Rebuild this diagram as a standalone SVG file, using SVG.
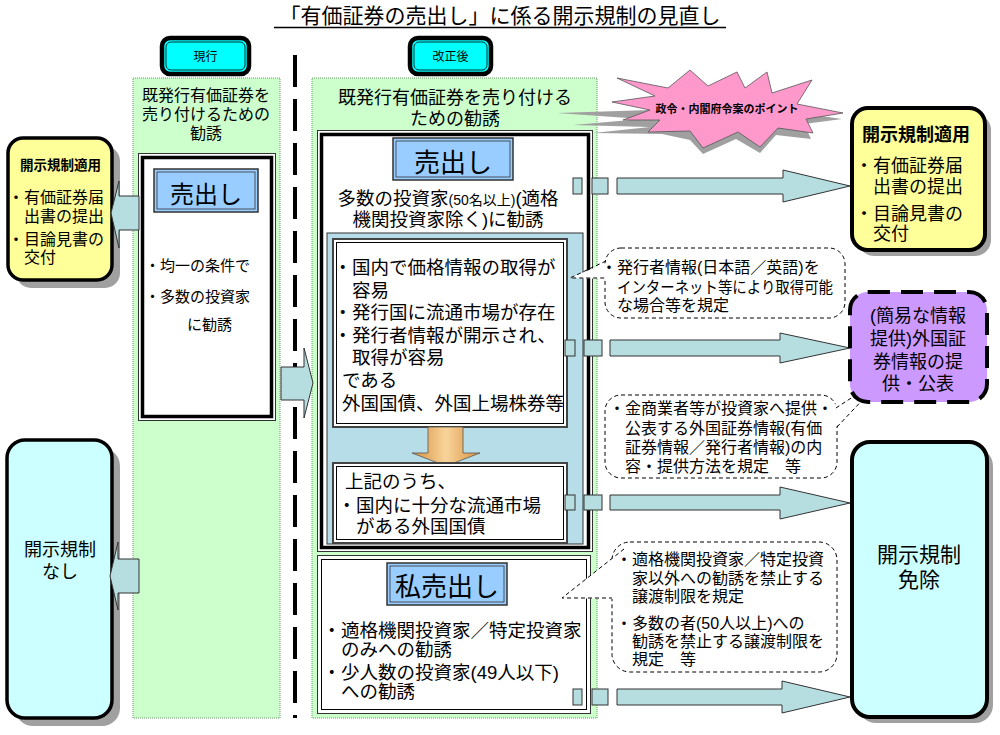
<svg xmlns="http://www.w3.org/2000/svg" width="1000" height="735" viewBox="0 0 1000 735">
<defs>
<linearGradient id="og" x1="0" y1="0" x2="1" y2="0">
<stop offset="0" stop-color="#D89040"/><stop offset="0.5" stop-color="#F8D49A"/><stop offset="1" stop-color="#D89040"/>
</linearGradient>
<style>
.t{font-family:"Liberation Sans","Noto Sans CJK JP","Noto Sans CJK SC",sans-serif;fill:#000}
.b{font-weight:bold}
.col{fill:#CCFFCC;stroke:#6A9A6A;stroke-width:1;stroke-dasharray:1 1}
.arr{fill:#B6DDE0;stroke:#333;stroke-width:1}
.sh{fill:#A0A0A0}
.lbl{fill:#99CCFF;stroke:#333;stroke-width:1.5}
.lbli{fill:none;stroke:#333;stroke-width:0.8}
.wb1{fill:#fff;stroke:#333;stroke-width:1}
.wb2{fill:none;stroke:#000;stroke-width:3.5}
.ib1{fill:#fff;stroke:#444;stroke-width:2}
.ib2{fill:none;stroke:#000;stroke-width:1}
.co{fill:#fff;stroke:#000;stroke-width:1;stroke-dasharray:4 3}
.cot{fill:none;stroke:#000;stroke-width:1;stroke-dasharray:4 3}
.tab{fill:#00FFFF;stroke:#000;stroke-width:4.5}
.tabi{fill:none;stroke:#000;stroke-width:0.8}
</style>
</defs>
<rect width="1000" height="735" fill="#fff"/>

<g id="title">
<text class="t" x="500" y="23" font-size="21" text-anchor="middle">「有価証券の売出し」に係る開示規制の見直し</text>
<line x1="274" y1="27.5" x2="726" y2="27.5" stroke="#000" stroke-width="1.5"/>
</g>

<g id="tab-current">
<rect class="tab" x="162" y="38" width="87" height="36" rx="8"/>
<rect class="tabi" x="166" y="42" width="79" height="28" rx="5"/>
<text class="t" x="205.5" y="61" font-size="12" text-anchor="middle">現行</text>
</g>
<g id="tab-revised">
<rect class="tab" x="410" y="38" width="81" height="36" rx="8"/>
<rect class="tabi" x="414" y="42" width="73" height="28" rx="5"/>
<text class="t" x="450.5" y="61" font-size="12" text-anchor="middle">改正後</text>
</g>

<g id="divider">
<line x1="295" y1="55" x2="295" y2="718" stroke="#000" stroke-width="4" stroke-dasharray="32 12"/>
</g>

<g id="col-current">
<rect class="col" x="133" y="78" width="147" height="640"/>
<text class="t" font-size="16" text-anchor="middle"><tspan x="206" y="101">既発行有価証券を</tspan><tspan x="206" y="120">売り付けるための</tspan><tspan x="206" y="139">勧誘</tspan></text>
</g>

<g id="col-revised">
<rect class="col" x="312" y="78" width="285" height="640"/>
<text class="t" font-size="18" text-anchor="middle"><tspan x="455" y="104">既発行有価証券を売り付ける</tspan><tspan x="455" y="125">ための勧誘</tspan></text>
</g>

<g id="uridashi-current">
<rect class="wb1" x="138.5" y="153.5" width="137" height="267"/>
<rect class="wb2" x="142.5" y="157.5" width="129" height="259"/>
<rect class="lbl" x="154" y="169" width="104" height="43"/>
<rect class="lbli" x="157" y="172" width="98" height="37"/>
<text class="t" x="206" y="203" font-size="24" text-anchor="middle">売出し</text>
<text class="t" font-size="15"><tspan x="145" y="271">・</tspan><tspan x="160">均一の条件で</tspan><tspan x="145" y="302">・</tspan><tspan x="160">多数の投資家</tspan><tspan x="187" y="330">に勧誘</tspan></text>
</g>

<g id="disclosure-left">
<rect class="sh" x="16" y="146" width="104" height="142" rx="15"/>
<rect x="8" y="138" width="104" height="142" rx="15" fill="#FFFF99" stroke="#000" stroke-width="3.5"/>
<text class="t" font-size="16"><tspan class="b" x="20" y="170" font-size="13.5">開示規制適用</tspan><tspan x="8" y="203">・</tspan><tspan x="24">有価証券届</tspan><tspan x="24" y="222">出書の提出</tspan><tspan x="8" y="245">・</tspan><tspan x="24">目論見書の</tspan><tspan x="24" y="263">交付</tspan></text>
</g>

<g id="nodisclosure-left">
<rect class="sh" x="15" y="448" width="105" height="278" rx="18"/>
<rect x="7" y="440" width="105" height="278" rx="18" fill="#CCFFFF" stroke="#000" stroke-width="3.5"/>
<text class="t" font-size="18" text-anchor="middle"><tspan x="60" y="556">開示規制</tspan><tspan x="60" y="578">なし</tspan></text>
</g>

<g id="connectors">
<polygon class="arr" points="139,196 119,196 119,181 111,213 119,248 119,230 139,230"/>
<polygon class="arr" points="139,559 118,559 118,542 110,576 118,610 118,593 139,593"/>
<polygon class="arr" points="281,367 304,367 304,348 313,383 304,418 304,400 281,400"/>
</g>

<g id="uridashi-revised">
<rect class="wb1" x="317.5" y="130.5" width="275" height="421"/>
<rect class="wb2" x="321.5" y="134.5" width="267" height="413"/>
<rect class="lbl" x="393" y="138" width="120" height="42"/>
<rect class="lbli" x="396" y="141" width="114" height="36"/>
<text class="t" x="453" y="172" font-size="26" text-anchor="middle">売出し</text>
<text class="t" font-size="18.5" text-anchor="middle"><tspan x="448" y="205">多数の投資家<tspan font-size="14">(50名以上)</tspan>(適格</tspan><tspan x="448" y="226">機関投資家除く)に勧誘</tspan></text>
<rect x="327" y="233" width="256" height="311" fill="#B7DDE8" stroke="#333" stroke-width="1"/>
</g>

<g id="foreign-bonds">
<rect class="ib1" x="333" y="239" width="234" height="188"/>
<rect class="ib2" x="336.5" y="242.5" width="227" height="181"/>
<text class="t" font-size="18.5"><tspan x="333.5" y="274">・</tspan><tspan x="352">国内で価格情報の取得が</tspan><tspan x="352" y="297">容易</tspan><tspan x="333.5" y="319">・</tspan><tspan x="352">発行国に流通市場が存在</tspan><tspan x="333.5" y="342">・</tspan><tspan x="352">発行者情報が開示され、</tspan><tspan x="352" y="364">取得が容易</tspan><tspan x="342" y="387">である</tspan><tspan x="342" y="410">外国国債、外国上場株券等</tspan></text>
</g>

<g id="down-arrow">
<polygon points="428,427 463,427 463,453 480,453 446,466 412,453 428,453" fill="url(#og)" stroke="#555" stroke-width="0.8"/>
</g>

<g id="subset-bonds">
<rect class="ib1" x="333" y="463" width="234" height="80"/>
<rect class="ib2" x="336.5" y="466.5" width="227" height="73"/>
<text class="t" font-size="18.5"><tspan x="345" y="488">上記のうち、</tspan><tspan x="337.5" y="512">・</tspan><tspan x="356">国内に十分な流通市場</tspan><tspan x="356" y="533">がある外国国債</tspan></text>
</g>

<g id="shiuridashi">
<rect class="wb1" x="317.5" y="555.5" width="273" height="158"/>
<rect class="ib2" x="321.5" y="559.5" width="265" height="150" stroke-width="1.5"/>
<rect class="lbl" x="387" y="563" width="120" height="42"/>
<rect class="lbli" x="390" y="566" width="114" height="36"/>
<text class="t" x="447" y="596" font-size="26" text-anchor="middle">私売出し</text>
<text class="t" font-size="18.5"><tspan x="322.5" y="637">・</tspan><tspan x="341">適格機関投資家／特定投資家</tspan><tspan x="341" y="656">のみへの勧誘</tspan><tspan x="322.5" y="679">・</tspan><tspan x="341">少人数の投資家(49人以下)</tspan><tspan x="341" y="698">への勧誘</tspan></text>
</g>

<g id="connectors-right">
<rect class="arr" x="573" y="178" width="9" height="16"/>
<rect class="arr" x="592" y="178" width="16" height="16"/>
<polygon class="arr" points="617,178 783,178 783,170 850,186 783,202 783,194 617,194"/>
<rect class="arr" x="565" y="340" width="10" height="16"/>
<rect class="arr" x="584" y="340" width="18" height="16"/>
<polygon class="arr" points="610,340 780,340 780,333 850,348 780,363 780,356 610,356"/>
<rect class="arr" x="565" y="495" width="10" height="15"/>
<rect class="arr" x="584" y="495" width="18" height="15"/>
<polygon class="arr" points="610,495 780,495 780,487 850,503 780,519 780,510 610,510"/>
<rect class="arr" x="573" y="689" width="9" height="16"/>
<rect class="arr" x="592" y="689" width="16" height="16"/>
<polygon class="arr" points="617,689 782,689 782,681 850,697 782,713 782,705 617,705"/>
</g>

<g id="starburst">
<polygon class="sh" points="650,110 557,113 642,119 573,125 650,127 593,133 662,134 690,140 703,154 736,139 760,153 776,135 811,139 804,124 842,119 800,113 760,120 700,118"/>
<polygon points="612,102 655,96 617,78 668,88 690,70 708,86 737,72 745,88 767,72 772,93 812,80 797,104 843,113 806,119 813,133 778,128 760,147 738,132 703,148 690,131 648,132 660,120 623,120 650,110" fill="#FF99CC" stroke="#555" stroke-width="0.8"/>
<text class="t b" x="727" y="113" font-size="11" text-anchor="middle">政令・内閣府令案のポイント</text>
</g>

<g id="disclosure-right">
<rect class="sh" x="858" y="114" width="133" height="142" rx="16"/>
<rect x="852" y="108" width="133" height="142" rx="16" fill="#FFFF99" stroke="#000" stroke-width="4"/>
<text class="t" font-size="18"><tspan class="b" x="862" y="141">開示規制適用</tspan><tspan x="855" y="172">・</tspan><tspan x="873">有価証券届</tspan><tspan x="873" y="193">出書の提出</tspan><tspan x="855" y="220">・</tspan><tspan x="873">目論見書の</tspan><tspan x="873" y="240">交付</tspan></text>
</g>

<g id="callout-1">
<rect class="co" x="605" y="248" width="240" height="70" rx="16"/>
<polygon points="608,262 570,278 608,279" fill="#fff"/>
<polyline class="cot" points="606,261 570,278 605,278"/>
<text class="t" font-size="16"><tspan x="601" y="273">・</tspan><tspan x="617">発行者情報(日本語／英語)を</tspan><tspan x="617" y="293" textLength="216" lengthAdjust="spacingAndGlyphs">インターネット等により取得可能</tspan><tspan x="617" y="311">な場合等を規定</tspan></text>
</g>

<g id="callout-2">
<rect class="co" x="605" y="395" width="232" height="83" rx="16"/>
<polygon points="834,405 886,375 834,429" fill="#fff"/>
<line class="cot" x1="836" y1="408" x2="886" y2="375"/>
<line class="cot" x1="837" y1="427" x2="886" y2="375"/>
<text class="t" font-size="16"><tspan x="609" y="414">・</tspan><tspan x="625">金商業者等が投資家へ提供・</tspan><tspan x="625" y="434">公表する外国証券情報(有価</tspan><tspan x="625" y="453">証券情報／発行者情報)の内</tspan><tspan x="625" y="472">容・提供方法を規定　等</tspan></text>
</g>

<g id="foreign-info">
<rect x="850" y="292" width="137" height="110" rx="18" fill="#CC99FF" stroke="#000" stroke-width="4" stroke-dasharray="22 11"/>
<text class="t" font-size="18" text-anchor="middle"><tspan x="918" y="322">(簡易な情報</tspan><tspan x="918" y="345">提供)外国証</tspan><tspan x="918" y="368">券情報の提</tspan><tspan x="918" y="390">供・公表</tspan></text>
</g>

<g id="callout-3">
<rect class="co" x="612" y="542" width="225" height="130" rx="18"/>
<polygon points="624,549 562,598 614,599 614,553" fill="#fff"/>
<polyline class="cot" points="624,549 562,598 612,598"/>
<text class="t" font-size="16"><tspan x="616" y="565">・</tspan><tspan x="632">適格機関投資家／特定投資</tspan><tspan x="632" y="584">家以外への勧誘を禁止する</tspan><tspan x="632" y="602">譲渡制限を規定</tspan><tspan x="616" y="629">・</tspan><tspan x="632">多数の者(50人以上)への</tspan><tspan x="632" y="647">勧誘を禁止する譲渡制限を</tspan><tspan x="632" y="665">規定　等</tspan></text>
</g>

<g id="exemption-right">
<rect class="sh" x="858" y="448" width="135" height="275" rx="18"/>
<rect x="852" y="442" width="135" height="275" rx="18" fill="#CCFFFF" stroke="#000" stroke-width="4"/>
<text class="t" font-size="21" text-anchor="middle"><tspan x="919" y="562">開示規制</tspan><tspan x="919" y="587">免除</tspan></text>
</g>
</svg>
